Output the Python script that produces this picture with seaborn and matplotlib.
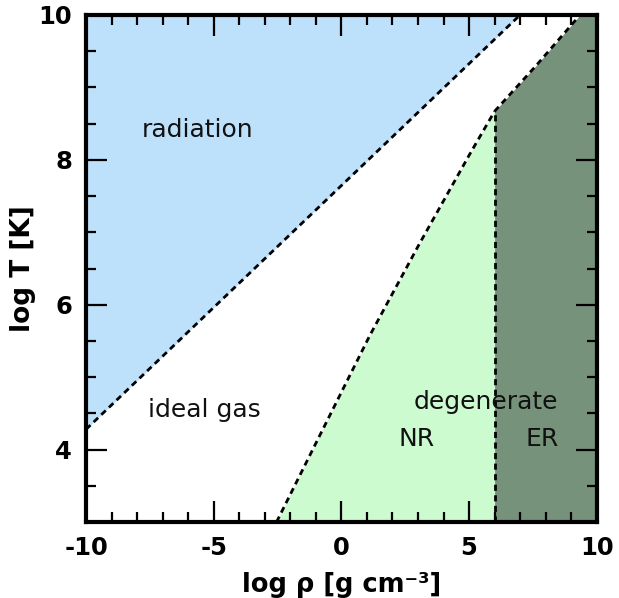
import numpy as np
import pandas as pd
import matplotlib
matplotlib.use("Agg")
import matplotlib.pyplot as plt
import seaborn as sns
from matplotlib.ticker import MultipleLocator

# boundary curves (log rho, log T)
rad_x = [-10.0, 7.0]
rad_y = [4.28, 10.0]
nr_x = [-2.54, -0.84, 1.12, 3.07, 5.03, 6.0]
nr_y = [3.0, 4.2, 5.58, 6.85, 8.08, 8.67]
er_x = [6.0, 7.6, 9.35]
er_y = [8.67, 9.29, 10.0]
er_vline_x = 6.0

labels = ["radiation", "ideal gas", "degenerate", "NR", "ER"]
label_x = [-5.65, -5.38, 5.66, 2.95, 7.85]
label_y = [8.41, 4.55, 4.66, 4.14, 4.14]

xlim = (-10, 10)
ylim = (3, 10)

sns.set_theme(style="white")
plt.rcParams['font.family'] = ['DejaVu Sans']
plt.rcParams['axes.unicode_minus'] = False

fig = plt.figure(figsize=(6.19, 5.98), dpi=100)
ax = fig.add_axes([0.139, 0.127, 0.825, 0.848])
ax.set_axisbelow(False)

c_blue = "#bde0fb"
c_lgreen = "#ccfbd0"
c_dgreen = "#76927a"

# radiation region (above line)
ax.fill_between(rad_x, rad_y, [ylim[1]] * len(rad_x), color=c_blue, lw=0, zorder=1)
# NR region: below nr curve, up to x=6
ax.fill_between(nr_x, [ylim[0]] * len(nr_x), nr_y, color=c_lgreen, lw=0, zorder=1)
# ER region: x from 6 to 10 below er curve
er_fx = er_x + [xlim[1]]
er_fy = er_y + [ylim[1]]
ax.fill_between(er_fx, [ylim[0]] * len(er_fx), er_fy, color=c_dgreen, lw=0, zorder=1)

dash = (0, (2.2, 1.6))
df_rad = pd.DataFrame({"x": rad_x, "y": rad_y})
df_nr = pd.DataFrame({"x": nr_x, "y": nr_y})
df_er = pd.DataFrame({"x": er_x, "y": er_y})
for d in (df_rad, df_nr, df_er):
    sns.lineplot(data=d, x="x", y="y", ax=ax, color="black", lw=2, linestyle=dash,
                 sort=False, estimator=None, zorder=3)
ax.plot([er_vline_x, er_vline_x], [ylim[0], nr_y[-1]], color="black", lw=2,
        linestyle=dash, zorder=3)

for t, x, y in zip(labels, label_x, label_y):
    ax.text(x, y, t, fontsize=18, ha="center", va="center", color="#111111", zorder=4)

ax.set_xlim(*xlim)
ax.set_ylim(*ylim)
ax.xaxis.set_major_locator(MultipleLocator(5))
ax.xaxis.set_minor_locator(MultipleLocator(1))
ax.yaxis.set_major_locator(MultipleLocator(2))
ax.yaxis.set_minor_locator(MultipleLocator(0.5))
ax.tick_params(which="both", direction="in", top=True, right=True, bottom=True, left=True,
               colors="black", width=1.6, labelcolor="black")
ax.tick_params(which="major", length=15, labelsize=17.5)
ax.tick_params(which="minor", length=7)
ax.tick_params(axis="x", which="major", pad=10)
ax.tick_params(axis="y", which="major", pad=10)
for lab in ax.get_xticklabels() + ax.get_yticklabels():
    lab.set_fontweight("bold")
for s in ax.spines.values():
    s.set_linewidth(3)
    s.set_color("black")
    s.set_zorder(5)

ax.set_xlabel("log ρ [g cm⁻³]", fontsize=18.5, fontweight="bold", labelpad=9, color="black")
ax.set_ylabel("log T [K]", fontsize=19, fontweight="bold", labelpad=2, color="black")

fig.savefig("out.png", dpi=100)
